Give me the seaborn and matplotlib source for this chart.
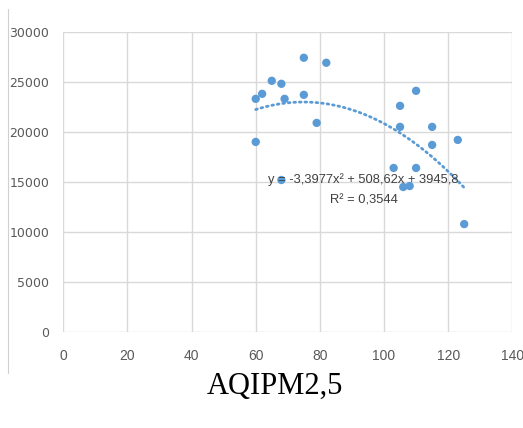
import matplotlib
matplotlib.use("Agg")
import matplotlib.pyplot as plt
import numpy as np
import pandas as pd
import seaborn as sns
from matplotlib.lines import Line2D

# Data (x = AQI, y = PM2.5 related value)
aqi = [60, 62, 65, 68, 69, 75, 75, 82, 79, 60, 105,
       110, 105, 115, 115, 123, 103, 110, 68, 106, 108, 125]
values = [23300, 23800, 25100, 24800, 23300, 27400, 23700, 26900, 20900, 19000, 22600,
          24100, 20500, 20500, 18700, 19200, 16400, 16400, 15200, 14500, 14600, 10800]

# Trendline coefficients as printed on the chart
coef = [-3.3977, 508.62, 3945.8]
r2_label = "R² = 0,3544"
eq_label = "y = -3,3977x² + 508,62x + 3945,8"
x_ticks = [0, 20, 40, 60, 80, 100, 120, 140]
y_ticks = [0, 5000, 10000, 15000, 20000, 25000, 30000]
title = "AQIPM2,5"

df = pd.DataFrame({"x": aqi, "y": values})
xs = np.linspace(min(aqi), max(aqi), 100)
trend = pd.DataFrame({"x": xs, "y": np.polyval(coef, xs)})

sns.set_style("white")
blue = "#5B9BD5"

fig = plt.figure(figsize=(5.23, 4.28), dpi=100)
ax = fig.add_axes([63.3 / 523, 1 - 332.3 / 428, (512.3 - 63.3) / 523, (332.3 - 31.7) / 428])

sns.scatterplot(data=df, x="x", y="y", color=blue, s=36, edgecolor="none", ax=ax, zorder=3)
sns.lineplot(data=trend, x="x", y="y", color=blue, linewidth=2.0, ax=ax, zorder=2,
             linestyle=(0, (0.6, 1.4)), dash_capstyle="round")

ax.set_xlim(0, 140)
ax.set_ylim(0, 30000)
ax.set_xticks(x_ticks)
ax.set_yticks(y_ticks)
ax.set_xlabel("")
ax.set_ylabel("")
ax.grid(True, color="#d9d9d9", linewidth=1.0)
ax.set_axisbelow(True)
for s in ax.spines.values():
    s.set_visible(False)
ax.tick_params(length=0)
ax.tick_params(axis="y", pad=10, labelsize=9, labelcolor="#595959")
ax.tick_params(axis="x", pad=12, labelsize=10, labelcolor="#595959")
for lab in ax.get_xticklabels():
    lab.set_family(["Liberation Sans", "DejaVu Sans"])
for lab in ax.get_yticklabels():
    lab.set_family(["DejaVu Sans"])

ax.text(93.6, 15250, eq_label, ha="center", va="center", fontsize=9.3, color="#404040",
        family=["Liberation Sans", "DejaVu Sans"], zorder=4)
ax.text(93.6, 13160, r2_label, ha="center", va="center", fontsize=9.3, color="#404040",
        family=["Liberation Sans", "DejaVu Sans"], zorder=4)

# chart area border on the left
fig.add_artist(Line2D([8.3 / 523, 8.3 / 523], [1 - 9 / 428, 1 - 373 / 428],
                      color="#d0d0d0", linewidth=0.8))

fig.text(275 / 523, 1 - 386 / 428, title, ha="center", va="center", fontsize=22,
         family=["Liberation Serif", "DejaVu Serif"], color="black")

fig.savefig("out.png", dpi=100)
